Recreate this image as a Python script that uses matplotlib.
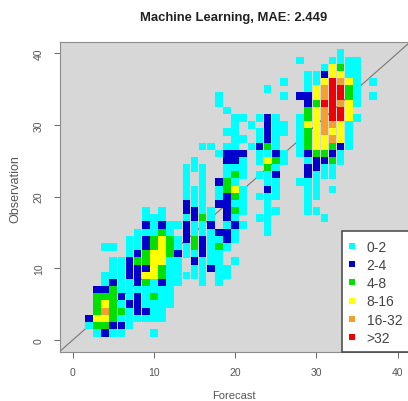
import matplotlib.pyplot as plt
from matplotlib import font_manager
from matplotlib.lines import Line2D
from matplotlib.patches import Rectangle

title = 'Machine Learning, MAE: 2.449'
classes = ['0-2', '2-4', '4-8', '8-16', '16-32', '>32']
codes = ['c', 'b', 'g', 'y', 'o', 'r']
colors = ['#00ffff', '#0000cd', '#00e000', '#ffff00', '#f5a02a', '#f00000']
ticks = [0, 10, 20, 30, 40]

# count class of each (forecast, observation) cell, read off row by row:
# (observation, first forecast value, one code per forecast step, '.' = empty)
rows = [
    (40, 33, "c"),
    (39, 28, "c...cccc"),
    (38, 31, "cygcc"),
    (37, 29, "ccbyycc"),
    (36, 26, "c..ccyroyc.c"),
    (35, 24, "c....cyorrgc"),
    (34, 18, "c.......c.bbyorrgc.c"),
    (33, 18, "c..........bgrroyc"),
    (32, 19, "c.........gyorry"),
    (31, 20, "cc.cbc..cgyorryc"),
    (30, 20, "c.c.bcc.cyyooyc"),
    (29, 19, "cc..cbcc.cgyoyyc"),
    (28, 20, "cc.cbc..cgyyoyc"),
    (27, 16, "cc.cc.cbgc..cgyygbc"),
    (26, 18, "cbbb.ccbc.cbggbc"),
    (25, 15, "c...bbc.cygc..cbbgc"),
    (24, 14, "ccc..ccc..gc...bbcc"),
    (23, 14, "c.c..cgc.ccb...bccc"),
    (22, 14, "c.c.bgc...cc..ccc"),
    (21, 14, "ccc.cgyc..bc...cc.c"),
    (20, 14, "ccc.cbgc.ccc...cc"),
    (19, 14, "bcc.bbcc..c....c"),
    (18, 9, "c.c..bbcc.bgc..cc...cc"),
    (17, 9, "ccc..cbgc.bc..cc......c"),
    (16, 9, "bcbccbccb.cbc..c"),
    (15, 8, "cccgc.bcccbbc...c"),
    (14, 7, "ccbgygcbgbccbc"),
    (13, 4, "cc.ccbgygccgbcgc"),
    (12, 7, "cbgyygbccbcc"),
    (11, 5, "ccbggyycc.bccc.c"),
    (10, 5, "ccbbbygcc.ccbcc"),
    (9, 4, "cccbbyygccccc.cc"),
    (8, 4, "cbccbgcbcc..c.c"),
    (7, 3, "bbgccccccc"),
    (6, 3, "gggbcbcgcc"),
    (5, 3, "gygcbbcccc"),
    (4, 3, "goggcbbcc"),
    (3, 2, "byygcccccc"),
    (2, 2, "cggbbc"),
    (1, 3, "cbcc...c"),
]

fx, fy, fc = [], [], []
for obs, start, cells in rows:
    for i, ch in enumerate(cells):
        if ch == '.':
            continue
        fx.append(start + i)
        fy.append(obs)
        fc.append(colors[codes.index(ch)])

names = {f.name for f in font_manager.fontManager.ttflist}
font = 'Liberation Sans' if 'Liberation Sans' in names else 'DejaVu Sans'
plt.rcParams['font.family'] = [font, 'DejaVu Sans']

W, H = 408, 402
fig = plt.figure(figsize=(W / 100, H / 100), dpi=100)
ax = fig.add_axes([59.7 / W, 1 - 352.5 / H, 350.8 / W, 309.8 / H])
ax.set_facecolor('#d7d7d7')

ax.plot([-5, 45], [-5, 45], color='#7d756f', lw=0.8, zorder=1)
ax.scatter(fx, fy, c=fc, marker='s', s=30, linewidths=0, zorder=2)

ax.set_xlim(-1.6, 41.6)
ax.set_ylim(-1.6, 41.6)
ax.set_xticks(ticks)
ax.set_yticks(ticks)
ax.set_xticklabels([str(t) for t in ticks])
ax.set_yticklabels([str(t) for t in ticks], rotation=90, va='center')
ax.tick_params(length=4.5, width=0.7, color='#666666', labelcolor='#555555',
               labelsize=7.5, pad=7)
for s in ax.spines.values():
    s.set_color('#8c8c8c')
    s.set_linewidth(0.8)

fig.text(234 / W, 1 - 18 / H, title, ha='center', va='center',
         fontsize=9.4, fontweight='bold', color='#222222')
fig.text(234 / W, 1 - 396 / H, 'Forecast', ha='center', va='center',
         fontsize=8, color='#555555')
fig.text(15 / W, 1 - 189 / H, 'Observation', ha='center', va='center',
         rotation=90, fontsize=9, color='#555555')

# legend box sits in the lower right corner, cut by the figure edge
x0 = (341.5 - 59.7) / 350.8
ax.add_patch(Rectangle((x0, 0), 1.1 - x0, 121 / 309.8, transform=ax.transAxes,
                       facecolor='white', edgecolor='#444444', lw=1.1,
                       clip_on=False, zorder=4))
handles = [Line2D([], [], marker='s', ls='none', markersize=4.5,
                  markerfacecolor=c, markeredgewidth=0) for c in colors]
leg = ax.legend(handles, classes, loc='center left',
                bbox_to_anchor=(x0, 0.191), borderaxespad=0,
                fontsize=10, labelspacing=0.31, handlelength=0.6,
                handletextpad=0.73, borderpad=0.47, frameon=False,
                labelcolor='#444444')
leg.set_zorder(5)

fig.savefig('out.png', dpi=100)
